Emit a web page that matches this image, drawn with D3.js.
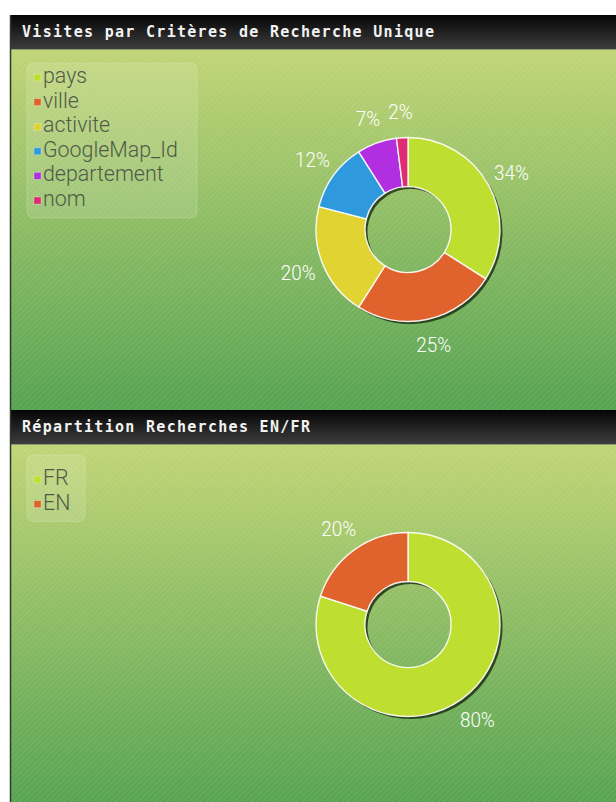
<!DOCTYPE html>
<meta charset="utf-8">
<script src="https://d3js.org/d3.v7.min.js"></script>
<style>
  body { margin: 0; background: #fff; }
</style>
<div id="charts"></div>
<script>
// Data read from the two donuts
var critereCategories = ["pays", "ville", "activite", "GoogleMap_Id", "departement", "nom"];
var critereValues = [34, 25, 20, 12, 7, 2];
var langueCategories = ["FR", "EN"];
var langueValues = [80, 20];
var sliceColors = ["#bfdf30", "#e0622c", "#e0d332", "#2f99de", "#b12fe0", "#e02c70"];

var width = 616, height = 802;
var headerH = 34, bodyH = 361;

var svg = d3.select("#charts").append("svg")
    .attr("width", width)
    .attr("height", height);

var defs = svg.append("defs");

var headGrad = defs.append("linearGradient")
    .attr("id", "headGrad").attr("x1", 0).attr("y1", 0).attr("x2", 0).attr("y2", 1);
headGrad.append("stop").attr("offset", "0%").attr("stop-color", "#050505");
headGrad.append("stop").attr("offset", "100%").attr("stop-color", "#3d3d3d");

var bodyGrad = defs.append("linearGradient")
    .attr("id", "bodyGrad").attr("x1", 0).attr("y1", 0).attr("x2", 0).attr("y2", 1);
bodyGrad.append("stop").attr("offset", "0%").attr("stop-color", "#c1d576");
bodyGrad.append("stop").attr("offset", "100%").attr("stop-color", "#57a353");

// Fine diagonal stripes on the background
var stripes = defs.append("pattern")
    .attr("id", "stripes")
    .attr("patternUnits", "userSpaceOnUse")
    .attr("width", 4).attr("height", 4)
    .attr("patternTransform", "rotate(45)");
stripes.append("rect")
    .attr("width", 1).attr("height", 4)
    .attr("fill", "#fff").attr("fill-opacity", 0.08);

var panels = [
  {title: "Visites par Critères de Recherche Unique", cats: critereCategories, vals: critereValues, top: 15, legendTop: 63, legendPad: 20},
  {title: "Répartition Recherches EN/FR", cats: langueCategories, vals: langueValues, top: 410, legendTop: 455, legendPad: 30}
];

var color = d3.scaleOrdinal().domain(critereCategories).range(sliceColors);

var pie = d3.pie().sort(null).value(d => d.value);
var outerR = 92, innerR = 43;
var arc = d3.arc().innerRadius(innerR).outerRadius(outerR);
var labelArc = d3.arc().innerRadius(118).outerRadius(118);

panels.forEach(function(p) {
  var g = svg.append("g");
  var bodyTop = p.top + headerH;

  // panel body
  g.append("rect")
      .attr("x", 10).attr("y", bodyTop)
      .attr("width", width - 10).attr("height", bodyH)
      .attr("fill", "url(#bodyGrad)");
  g.append("rect")
      .attr("x", 10).attr("y", bodyTop)
      .attr("width", width - 10).attr("height", bodyH)
      .attr("fill", "url(#stripes)");

  // header
  g.append("rect")
      .attr("x", 10).attr("y", p.top)
      .attr("width", width - 10).attr("height", headerH)
      .attr("fill", "url(#headGrad)");
  g.append("line")
      .attr("x1", 10).attr("x2", width)
      .attr("y1", bodyTop + 0.5).attr("y2", bodyTop + 0.5)
      .attr("stroke", "#8c9a72").attr("stroke-width", 1);
  g.append("text")
      .attr("x", 22).attr("y", p.top + 22)
      .attr("fill", "#f2f2f2")
      .attr("font-family", "DejaVu Sans Mono")
      .attr("font-weight", "bold")
      .attr("font-size", 15)
      .attr("letter-spacing", 1.3)
      .text(p.title);

  // left border
  g.append("line")
      .attr("x1", 10.5).attr("x2", 10.5)
      .attr("y1", p.top).attr("y2", bodyTop + bodyH)
      .attr("stroke", "#2e3a2a").attr("stroke-width", 1.5);

  // legend
  var data = p.cats.map((c, i) => ({name: c, value: p.vals[i]}));
  var rowH = 24.6;
  var boxW = p.cats.length > 2 ? 170 : 58;
  g.append("rect")
      .attr("x", 27).attr("y", p.legendTop)
      .attr("width", boxW).attr("height", p.legendPad + (data.length - 1) * rowH + 12)
      .attr("rx", 6)
      .attr("fill", "#fff").attr("fill-opacity", 0.13)
      .attr("stroke", "#fff").attr("stroke-opacity", 0.18);
  var items = g.append("g").selectAll("g")
    .data(data)
    .join("g")
      .attr("transform", (d, i) => `translate(0,${p.legendTop + p.legendPad + i * rowH})`);
  items.append("rect")
      .attr("x", 34).attr("y", -9)
      .attr("width", 7).attr("height", 7)
      .attr("fill", d => color(d.name))
      .attr("stroke", "#fff").attr("stroke-opacity", 0.35).attr("stroke-width", 0.8);
  items.append("text")
      .attr("transform", "translate(43,0) scale(0.93,1)")
      .attr("fill", "#4f5a48")
      .attr("font-family", "Roboto")
      .attr("font-weight", 300)
      .attr("font-size", 23)
      .text(d => d.name);

  // donut
  var cx = 408, cy = bodyTop + bodyH / 2;
  var arcs = pie(data);
  var donut = g.append("g").attr("transform", `translate(${cx},${cy})`);

  donut.append("g")
      .attr("transform", "translate(2.5,2.5)")
    .selectAll("path")
    .data(arcs)
    .join("path")
      .attr("d", arc)
      .attr("fill", "#10200c")
      .attr("fill-opacity", 0.75);

  donut.append("g")
      .attr("stroke", "#fff")
      .attr("stroke-width", 1.4)
      .attr("stroke-opacity", 0.9)
    .selectAll("path")
    .data(arcs)
    .join("path")
      .attr("d", arc)
      .attr("fill", d => color(d.data.name));

  donut.append("g")
      .attr("text-anchor", "middle")
    .selectAll("text")
    .data(arcs)
    .join("text")
      .attr("transform", d => `translate(${labelArc.centroid(d)}) scale(0.9,1)`)
      .attr("dy", "0.35em")
      .attr("fill", "#fff")
      .attr("font-family", "Roboto")
      .attr("font-weight", 300)
      .attr("font-size", 21)
      .text(d => Math.round(d.data.value / d3.sum(p.vals) * 100) + "%");
});
</script>
